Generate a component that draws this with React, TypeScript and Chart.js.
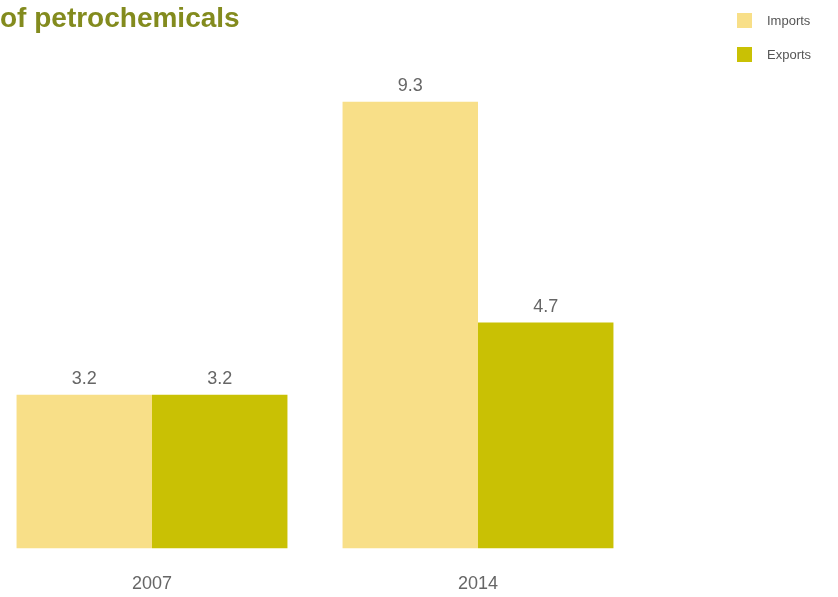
import React, { useEffect, useRef } from "react";
import { Chart, registerables } from "chart.js";

Chart.register(...registerables);

const categories = ["2007", "2014"];
const seriesNames = ["Imports", "Exports"];
const importsValues = [3.2, 9.3];
const exportsValues = [3.2, 4.7];
const titleText = "of petrochemicals";

const COLORS = ["#f8df88", "#c9c104"];
const OFFSET = 40; // canvas shifted left of the page
const CANVAS_W = 878;
const CANVAS_H = 620;

const decorPlugin = {
  id: "decor",
  afterDatasetsDraw(chart: any) {
    const ctx = chart.ctx;
    ctx.save();
    // value labels
    ctx.font = "18px 'Liberation Sans', Arial, sans-serif";
    ctx.fillStyle = "#666666";
    ctx.textAlign = "center";
    ctx.textBaseline = "alphabetic";
    chart.data.datasets.forEach((ds: any, di: number) => {
      const meta = chart.getDatasetMeta(di);
      meta.data.forEach((bar: any, i: number) => {
        ctx.fillText(String(ds.data[i]), bar.x, bar.y - 11);
      });
    });
    // title
    ctx.font = "bold 28px 'Liberation Sans', Arial, sans-serif";
    ctx.fillStyle = "#838b1e";
    ctx.textAlign = "left";
    ctx.fillText(titleText, OFFSET + 0, 27);
    // legend
    chart.data.datasets.forEach((ds: any, di: number) => {
      const y = 13 + di * 34;
      ctx.fillStyle = ds.backgroundColor;
      ctx.fillRect(OFFSET + 737, y, 15, 15);
      ctx.font = "13px 'Liberation Sans', Arial, sans-serif";
      ctx.fillStyle = "#555555";
      ctx.textBaseline = "middle";
      ctx.fillText(ds.label, OFFSET + 767, y + 8);
      ctx.textBaseline = "alphabetic";
    });
    ctx.restore();
  },
};

export default function App() {
  const ref = useRef<HTMLCanvasElement>(null);
  useEffect(() => {
    if (!ref.current) return;
    const chart = new Chart(ref.current, {
      type: "bar",
      data: {
        labels: categories,
        datasets: [
          { label: seriesNames[0], data: importsValues, backgroundColor: COLORS[0] },
          { label: seriesNames[1], data: exportsValues, backgroundColor: COLORS[1] },
        ],
      },
      options: {
        responsive: false,
        animation: false,
        layout: { padding: { left: 29, right: 197, top: 68, bottom: 0 } },
        datasets: {
          bar: { categoryPercentage: 0.831, barPercentage: 1, borderWidth: 0 },
        },
        plugins: {
          legend: { display: false },
          title: { display: false },
          tooltip: { enabled: false },
        },
        scales: {
          x: {
            grid: { display: false, drawTicks: false },
            border: { display: false },
            ticks: {
              padding: 25,
              color: "#666666",
              font: { size: 18, family: "'Liberation Sans', Arial, sans-serif" },
            },
          },
          y: { display: false, min: 0, max: 10 },
        },
      },
      plugins: [decorPlugin],
    });
    return () => chart.destroy();
  }, []);
  return (
    <div
      style={{
        position: "fixed",
        left: 0,
        top: 0,
        width: 838,
        height: 597,
        overflow: "hidden",
        background: "#ffffff",
      }}
    >
      <canvas
        ref={ref}
        width={CANVAS_W}
        height={CANVAS_H}
        style={{ position: "absolute", left: -OFFSET, top: 0, width: CANVAS_W, height: CANVAS_H }}
      />
    </div>
  );
}
